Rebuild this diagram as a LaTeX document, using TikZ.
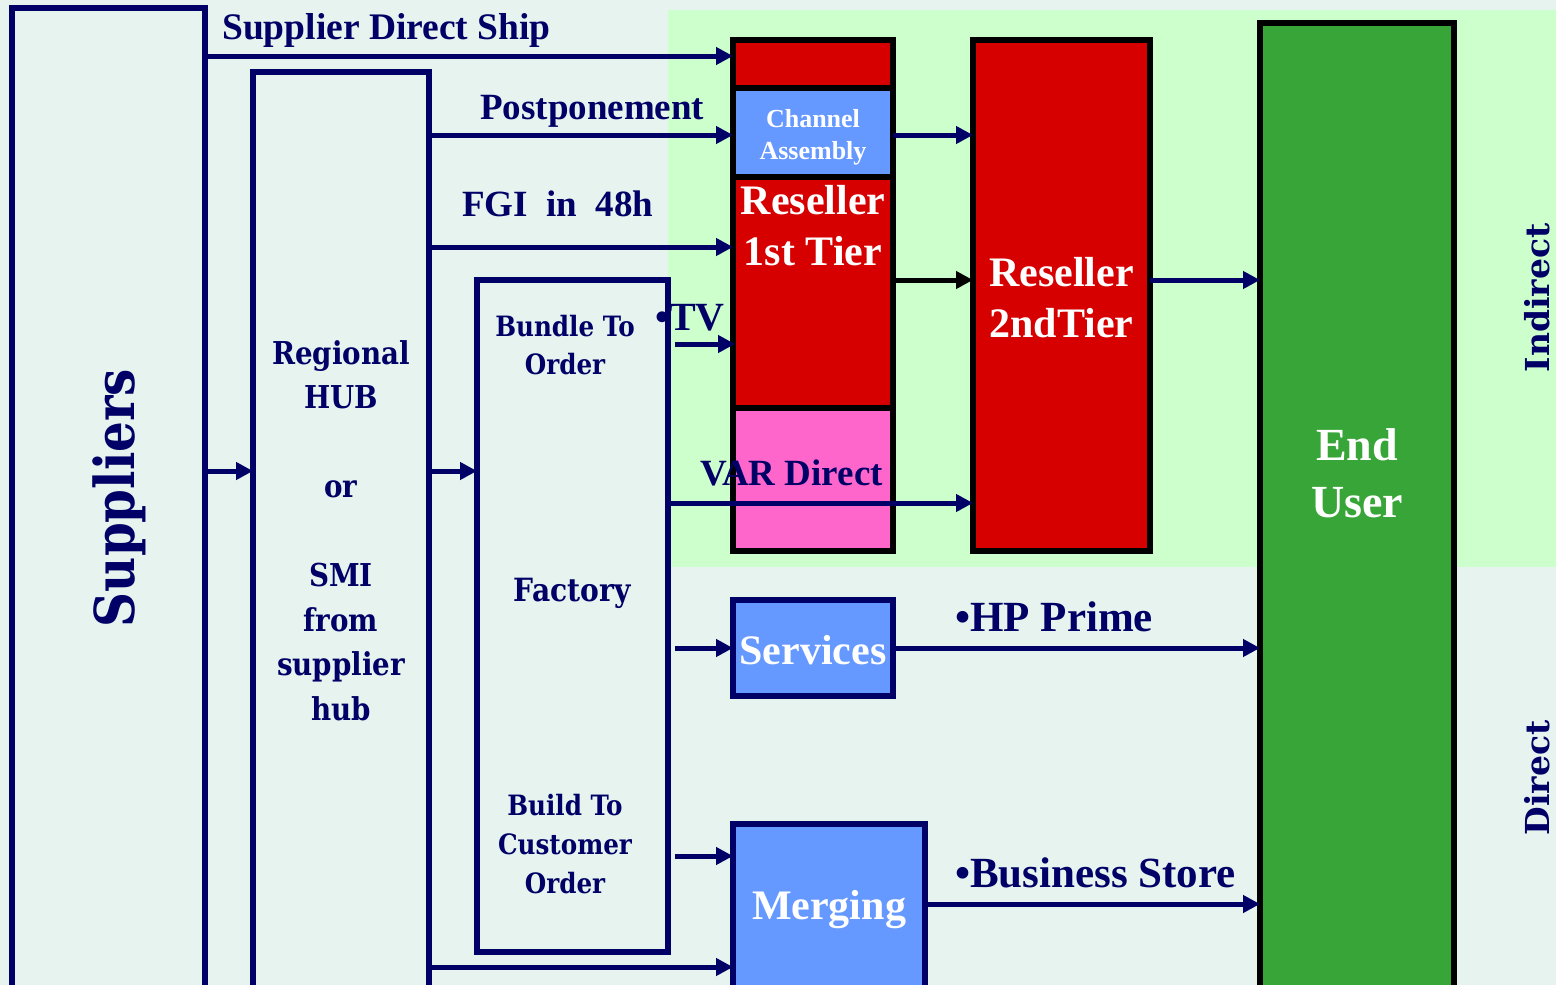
\documentclass[tikz,border=0pt]{standalone}
\usepackage{fontspec}
\setmainfont{Liberation Serif}
\newfontfamily\wideserif[FakeStretch=0.88]{DejaVu Serif}
\newfontfamily\sideserif{DejaVu Serif}
\usetikzlibrary{arrows.meta,positioning,calc}
\definecolor{chnavy}{RGB}{0,0,102}
\definecolor{chred}{RGB}{215,0,0}
\definecolor{chblue}{RGB}{102,153,255}
\definecolor{chpink}{RGB}{255,102,204}
\definecolor{chgreen}{RGB}{56,165,56}
\definecolor{chmint}{RGB}{204,255,204}
\definecolor{chbg}{RGB}{230,243,239}
\begin{document}
\begin{tikzpicture}[x=1pt,y=-1pt,
	box/.style={draw=chnavy,line width=6pt,inner sep=0pt,outer sep=0pt},
	tier/.style={draw=black,line width=6pt,inner sep=0pt,outer sep=0pt},
	arr/.style={draw=chnavy,line width=5pt,-{Triangle[length=17pt,width=17pt]}},
	lbl/.style={text=chnavy,inner sep=0pt,anchor=base west,font=\fontsize{37}{44}\selectfont\bfseries},
	wlbl/.style={text=white,inner sep=0pt,align=center},
	wide/.style={text=chnavy,inner sep=0pt,align=center}]
	\useasboundingbox (0,0) rectangle (1556,985);
	\clip (0,0) rectangle (1556,985);
	%BACKGROUND
	\fill[chbg] (0,0) rectangle (1556,985);
	\fill[chmint] (668,10) rectangle (1556,567);
	%SUPPLY SIDE
	\node[box,minimum width=193,minimum height=987] (sup) at (108.5,501.5) {};
	\node[box,minimum width=176,minimum height=923] (hub) at (341,533.5) {};
	\node[box,minimum width=191,minimum height=672] (fac) at (572.5,616) {};
	%CHANNEL STACK
	\node[tier,fill=chred,minimum width=160,minimum height=48] (st0) at (813,64) {};
	\node[tier,fill=chblue,minimum width=160,minimum height=89,below=0pt of st0] (cha) {};
	\node[tier,fill=chred,minimum width=160,minimum height=231,below=0pt of cha] (rt1) {};
	\node[tier,fill=chpink,minimum width=160,minimum height=143,below=0pt of rt1] (var) {};
	\node[tier,fill=chred,minimum width=177,minimum height=511] (rt2) at (1061.5,295.5) {};
	\node[tier,fill=chgreen,minimum width=194,minimum height=972] (eu) at (1357,509) {};
	\node[box,fill=chblue,minimum width=160,minimum height=96] (srv) at (813,648) {};
	\node[box,fill=chblue,minimum width=192,minimum height=171] (mrg) at (829,909.5) {};
	%ARROWS
	\draw[arr] (sup.east |- 0,56) -- (st0.west |- 0,56);
	\draw[arr] (hub.east |- 0,135) -- (cha.west |- 0,135);
	\draw[arr] (cha.east |- 0,135) -- (rt2.west |- 0,135);
	\draw[arr] (hub.east |- 0,247) -- (rt1.west |- 0,247);
	\draw[arr,draw=black] (rt1.east |- 0,280) -- (rt2.west |- 0,280);
	\draw[arr] (rt2.east |- 0,280) -- (eu.west |- 0,280);
	\draw[arr] ($(fac.east |- 0,344)+(7,0)$) -- ($(rt1.west |- 0,344)+(2,0)$);
	\draw[arr] (sup.east |- 0,471) -- (hub.west |- 0,471);
	\draw[arr] (hub.east |- 0,471) -- (fac.west |- 0,471);
	\draw[arr] (fac.east |- 0,503) -- (rt2.west |- 0,503);
	\draw[arr] ($(fac.east |- srv.west)+(7,0)$) -- (srv.west);
	\draw[arr] (srv.east) -- (eu.west |- srv.east);
	\draw[arr] ($(fac.east |- 0,856)+(7,0)$) -- (mrg.west |- 0,856);
	\draw[arr] (mrg.east |- 0,904) -- (eu.west |- 0,904);
	\draw[arr] (hub.east |- 0,967) -- (mrg.west |- 0,967);
	%LABELS
	\node[lbl,font=\fontsize{37.5}{44}\selectfont\bfseries] (lsds) at (222,39) {Supplier Direct Ship};
	\node[lbl] (lpost) at (480,119) {Postponement};
	\node[lbl] (lfgi) at (462,216) {FGI\ \ in\ \ 48h};
	\node[lbl,font=\fontsize{40}{44}\selectfont\bfseries] (ltv) at (655,330) {•TV};
	\node[lbl] (lvar) at (700,485) {VAR Direct};
	\node[lbl,font=\fontsize{43}{44}\selectfont\bfseries] (lhp) at (955,631) {•HP Prime};
	\node[lbl,font=\fontsize{43}{44}\selectfont\bfseries] (lbs) at (955,887) {•Business Store};
	\node[wlbl,font=\fontsize{26}{32}\selectfont\bfseries] at (813,137) {Channel\\Assembly};
	\node[wlbl,font=\fontsize{42}{51}\selectfont\bfseries] at (813,226) {Reseller\\1st Tier};
	\node[wlbl,font=\fontsize{42}{51}\selectfont\bfseries] at (1061.5,297.5) {Reseller\\2ndTier};
	\node[wlbl,font=\fontsize{46}{57}\selectfont\bfseries] at (1357,473) {End\\User};
	\node[wlbl,font=\fontsize{42}{44}\selectfont\bfseries] at (813,650) {Services};
	\node[wlbl,font=\fontsize{42}{44}\selectfont\bfseries] at (mrg) {Merging};
	\node[wide,rotate=90,font=\wideserif\fontsize{55}{56}\selectfont\bfseries] at (119,498) {Suppliers};
	\node[wide,font=\wideserif\fontsize{31.5}{44.5}\selectfont\bfseries] at (341,530.5) {Regional\\HUB\\[44.5pt]or\\[44.5pt]SMI\\from\\supplier\\hub};
	\node[wide,font=\wideserif\fontsize{28}{38}\selectfont\bfseries] at (565,345) {Bundle To\\Order};
	\node[wide,font=\wideserif\fontsize{32}{38}\selectfont\bfseries] at (572,593) {Factory};
	\node[wide,font=\wideserif\fontsize{28}{39}\selectfont\bfseries] at (565,844) {Build To\\Customer\\Order};
	\node[wide,rotate=90,font=\sideserif\fontsize{33}{36}\selectfont\bfseries] at (1537,298) {Indirect};
	\node[wide,rotate=90,font=\sideserif\fontsize{33}{36}\selectfont\bfseries] at (1537,778) {Direct};
\end{tikzpicture}
\end{document}
